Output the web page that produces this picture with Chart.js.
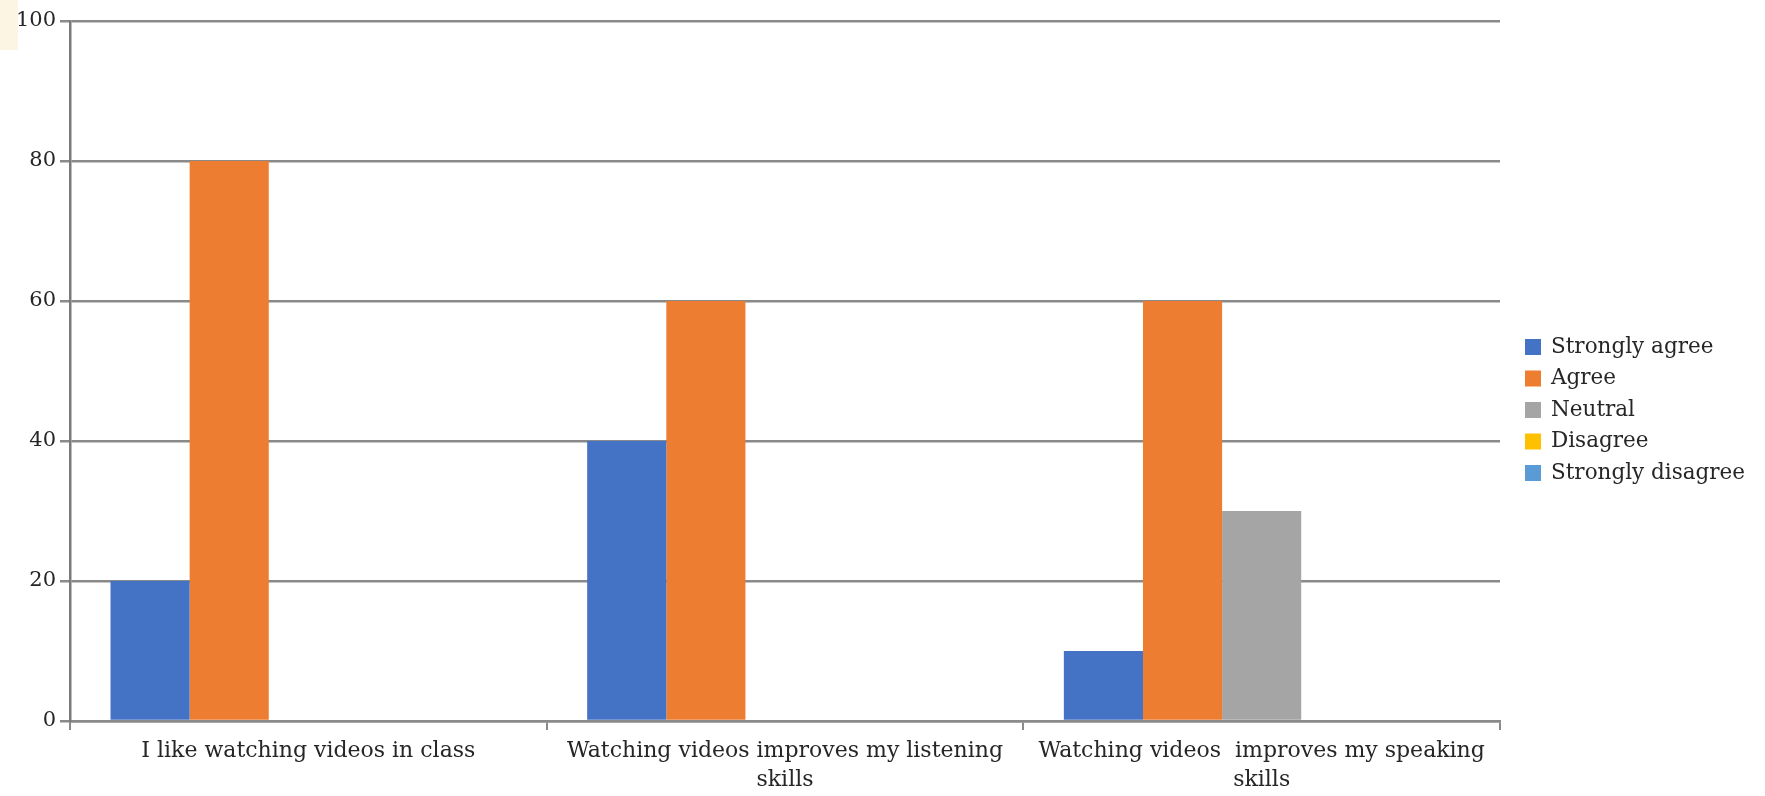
<!DOCTYPE html>
<html>
<head>
<meta charset="utf-8">
<script src="https://cdn.jsdelivr.net/npm/chart.js@4/dist/chart.umd.min.js"></script>
<style>
  html, body { margin: 0; padding: 0; background: #ffffff; }
  #wrap { position: relative; width: 1765px; height: 796px; }
  #corner { position: absolute; left: 0; top: 0; width: 18px; height: 50px; background: #fdf5e4; }
  canvas { position: absolute; left: 0; top: 0; }
</style>
</head>
<body>
<div id="wrap">
  <div id="corner"></div>
  <canvas id="chart" width="1765" height="796"></canvas>
</div>
<script>
// Survey statements (multi-line labels wrap under the axis)
const categories = [
  ["I like watching videos in class"],
  ["Watching videos improves my listening", "skills"],
  ["Watching videos  improves my speaking", "skills"]
];

// Percentage of responses per answer
const stronglyAgree    = [20, 40, 10];
const agree            = [80, 60, 60];
const neutral          = [0, 0, 30];
const disagree         = [0, 0, 0];
const stronglyDisagree = [0, 0, 0];

const seriesNames  = ["Strongly agree", "Agree", "Neutral", "Disagree", "Strongly disagree"];
const seriesColors = ["#4472c4", "#ed7d31", "#a5a5a5", "#ffc000", "#5b9bd5"];
const seriesValues = [stronglyAgree, agree, neutral, disagree, stronglyDisagree];

// Y-axis tick values
const yTicks = [0, 20, 40, 60, 80, 100];

const FONT = "'DejaVu Serif', 'Liberation Serif', serif";
const GRID = "#8a8a8a";
const TEXT = "#262626";

// Legend drawn at the right of the plot, one row per answer
const sideLegend = {
  id: "sideLegend",
  afterDraw(chart) {
    const ctx = chart.ctx;
    const x = chart.chartArea.right + 25;
    const rowH = 31.5;
    const y0 = 347;
    ctx.save();
    ctx.font = "21.5px " + FONT;
    ctx.textBaseline = "middle";
    ctx.textAlign = "left";
    chart.data.datasets.forEach((ds, i) => {
      const cy = y0 + i * rowH;
      ctx.fillStyle = ds.backgroundColor;
      ctx.fillRect(x, cy - 8, 16, 16);
      ctx.fillStyle = TEXT;
      ctx.fillText(ds.label, x + 26, cy);
    });
    ctx.restore();
  }
};

new Chart(document.getElementById("chart"), {
  type: "bar",
  data: {
    labels: categories,
    datasets: seriesNames.map((name, i) => ({
      label: name,
      data: seriesValues[i],
      backgroundColor: seriesColors[i],
      borderWidth: 0,
      categoryPercentage: 0.83,
      barPercentage: 1.0
    }))
  },
  options: {
    responsive: false,
    animation: false,
    layout: { padding: { top: 21, right: 265, left: 0, bottom: 0 } },
    plugins: {
      legend: { display: false },
      tooltip: { enabled: false }
    },
    scales: {
      x: {
        afterFit(scale) { scale.height = 75; },
        grid: {
          offset: true,
          drawOnChartArea: false,
          drawTicks: true,
          tickLength: 9,
          color: GRID,
          lineWidth: 2
        },
        border: { display: true, color: GRID, width: 2.5 },
        ticks: {
          color: TEXT,
          padding: 7,
          maxRotation: 0,
          autoSkip: false,
          font: { family: FONT, size: 22, lineHeight: 1.3 }
        }
      },
      y: {
        min: 0,
        max: 100,
        afterFit(scale) { scale.width = 70; },
        afterBuildTicks(scale) { scale.ticks = yTicks.map(v => ({ value: v })); },
        grid: {
          color: GRID,
          lineWidth: 2.5,
          tickLength: 10
        },
        border: { display: true, color: "#7a7a7a", width: 2.5 },
        ticks: {
          color: TEXT,
          padding: 4,
          font: { family: FONT, size: 21 }
        }
      }
    }
  },
  plugins: [sideLegend]
});
</script>
</body>
</html>
